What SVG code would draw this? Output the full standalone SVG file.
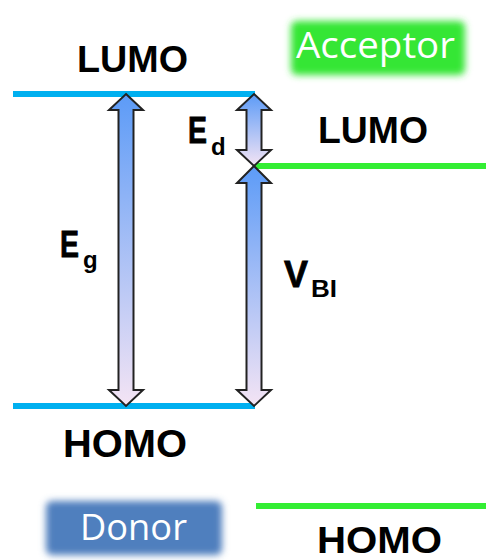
<svg xmlns="http://www.w3.org/2000/svg" width="486" height="560" viewBox="0 0 486 560">
<defs>
<linearGradient id="ag" x1="0" y1="0" x2="0" y2="1">
<stop offset="0" stop-color="#5C9BF7"/>
<stop offset="1" stop-color="#F4E4F4"/>
</linearGradient>
<filter id="soft" x="-20%" y="-40%" width="140%" height="180%">
<feGaussianBlur stdDeviation="3.5"/>
</filter>
</defs>
<style>
.lbl{font-family:"Liberation Sans",Arial,sans-serif;font-weight:bold;fill:#000}
.sym{stroke:#000;stroke-width:0.8}
.box{font-family:"Open Sans","Liberation Sans",sans-serif;fill:#fff}
.arr{fill:url(#ag);stroke:#222;stroke-width:2;stroke-linejoin:miter}
</style>
<rect width="486" height="560" fill="#fff"/>
<g id="acceptor">
<rect x="291" y="21" width="174" height="54" rx="6" fill="#36E636" filter="url(#soft)"/>
<text class="box" x="296" y="58" font-size="37" textLength="159" lengthAdjust="spacingAndGlyphs">Acceptor</text>
</g>
<g id="donor">
<rect x="46" y="501" width="176" height="54" rx="6" fill="#4F7FBE" filter="url(#soft)"/>
<text class="box" x="80" y="540" font-size="36" textLength="107" lengthAdjust="spacingAndGlyphs">Donor</text>
</g>
<g id="donor-levels">
<rect x="13" y="91" width="242" height="6" fill="#00B0F0"/>
<rect x="13" y="403" width="242" height="6" fill="#00B0F0"/>
<text class="lbl" x="77" y="72" font-size="37" textLength="111" lengthAdjust="spacingAndGlyphs">LUMO</text>
<text class="lbl" x="63" y="457" font-size="38" textLength="124" lengthAdjust="spacingAndGlyphs">HOMO</text>
</g>
<g id="acceptor-levels">
<rect x="255" y="163" width="231" height="6" fill="#33EE33"/>
<rect x="256" y="503" width="230" height="6" fill="#33EE33"/>
<text class="lbl" x="318" y="143" font-size="37" textLength="110" lengthAdjust="spacingAndGlyphs">LUMO</text>
<text class="lbl" x="317" y="553" font-size="36" textLength="125" lengthAdjust="spacingAndGlyphs">HOMO</text>
</g>
<g id="connectors">
<path class="arr" d="M126,94 L143,110 L133.5,110 L133.5,390 L143,390 L126,406 L109,390 L118.5,390 L118.5,110 L109,110 Z"/>
<path class="arr" d="M254,94 L271,110 L261.5,110 L261.5,150 L271,150 L254,166 L237,150 L246.5,150 L246.5,110 L237,110 Z"/>
<path class="arr" d="M254,166 L271,183 L261.5,183 L261.5,390 L271,390 L254,406 L237,390 L246.5,390 L246.5,183 L237,183 Z"/>
</g>
<g id="label-eg">
<text class="lbl sym" x="60" y="257" font-size="37" textLength="19" lengthAdjust="spacingAndGlyphs">E</text>
<text class="lbl" x="83" y="268" font-size="24">g</text>
</g>
<g id="label-ed">
<text class="lbl sym" x="188" y="143" font-size="37" textLength="19" lengthAdjust="spacingAndGlyphs">E</text>
<text class="lbl" x="211" y="155" font-size="24">d</text>
</g>
<g id="label-vbi">
<text class="lbl sym" x="284" y="287" font-size="37" textLength="24" lengthAdjust="spacingAndGlyphs">V</text>
<text class="lbl" x="311" y="297" font-size="24" textLength="26" lengthAdjust="spacingAndGlyphs">BI</text>
</g>
</svg>
